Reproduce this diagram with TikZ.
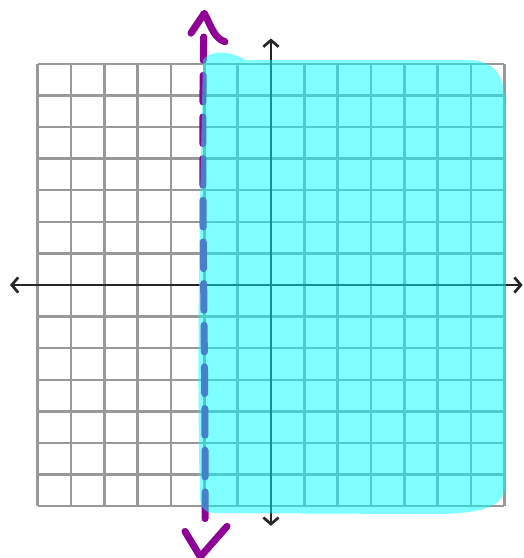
\documentclass[tikz,border=0pt]{standalone}
\usetikzlibrary{arrows.meta}
\definecolor{penpurple}{RGB}{142,0,150}
\definecolor{hilite}{RGB}{0,255,255}
\begin{document}
\begin{tikzpicture}[x=1cm, y=0.948cm,
    gridline/.style={black!40, line width=2.1pt},
    axisline/.style={black!85, line width=2.3pt, {Straight Barb[length=5.5pt,width=13pt,line width=2.3pt]}-{Straight Barb[length=5.5pt,width=13pt,line width=2.3pt]}},
    penline/.style={penpurple, line width=6pt, line cap=round, line join=round}]
    \useasboundingbox (-8.13,-8.64) rectangle (7.59,9.02);
    % the grid
    \foreach \k in {-7,...,7} {
        \draw[gridline] (\k,-7) -- (\k,7);
        \draw[gridline] (-7,\k) -- (7,\k);
    }
    % axes
    \draw[axisline] (-7.83,0) -- (7.55,0);
    \draw[axisline] (0,-7.62) -- (0,7.8);
    % boundary line x = -2
    \draw[penline, dash pattern=on 0.8cm off 0.45cm, dash phase=0.1cm] (-2.02,7.85) .. controls (-2.1,3) and (-1.95,-3) .. (-1.98,-7.8);
    \draw[penline] (-2.40,7.97) -- (-2.0,8.6) .. controls (-1.8,8.2) and (-1.7,7.8) .. (-1.38,7.7);
    \draw[penline] (-2.58,-7.8) -- (-2.12,-8.6) -- (-1.32,-7.64);
    % shaded half plane
    \fill[hilite, opacity=0.5] (-2.04,7.12) .. controls (-1.83,7.45) and (-1.23,7.42) .. (-0.78,7.12)
        -- (5.97,7.12) .. controls (6.87,7.08) and (7.02,6.4) .. (7.05,5.54)
        -- (7.05,-6.17) .. controls (7.05,-6.96) and (6.57,-7.2) .. (5.07,-7.25)
        -- (-1.68,-7.22) .. controls (-2.05,-7.2) and (-2.13,-7.0) .. (-2.13,-6.65)
        .. controls (-2.25,-2) and (-2.1,4) .. cycle;
\end{tikzpicture}
\end{document}
